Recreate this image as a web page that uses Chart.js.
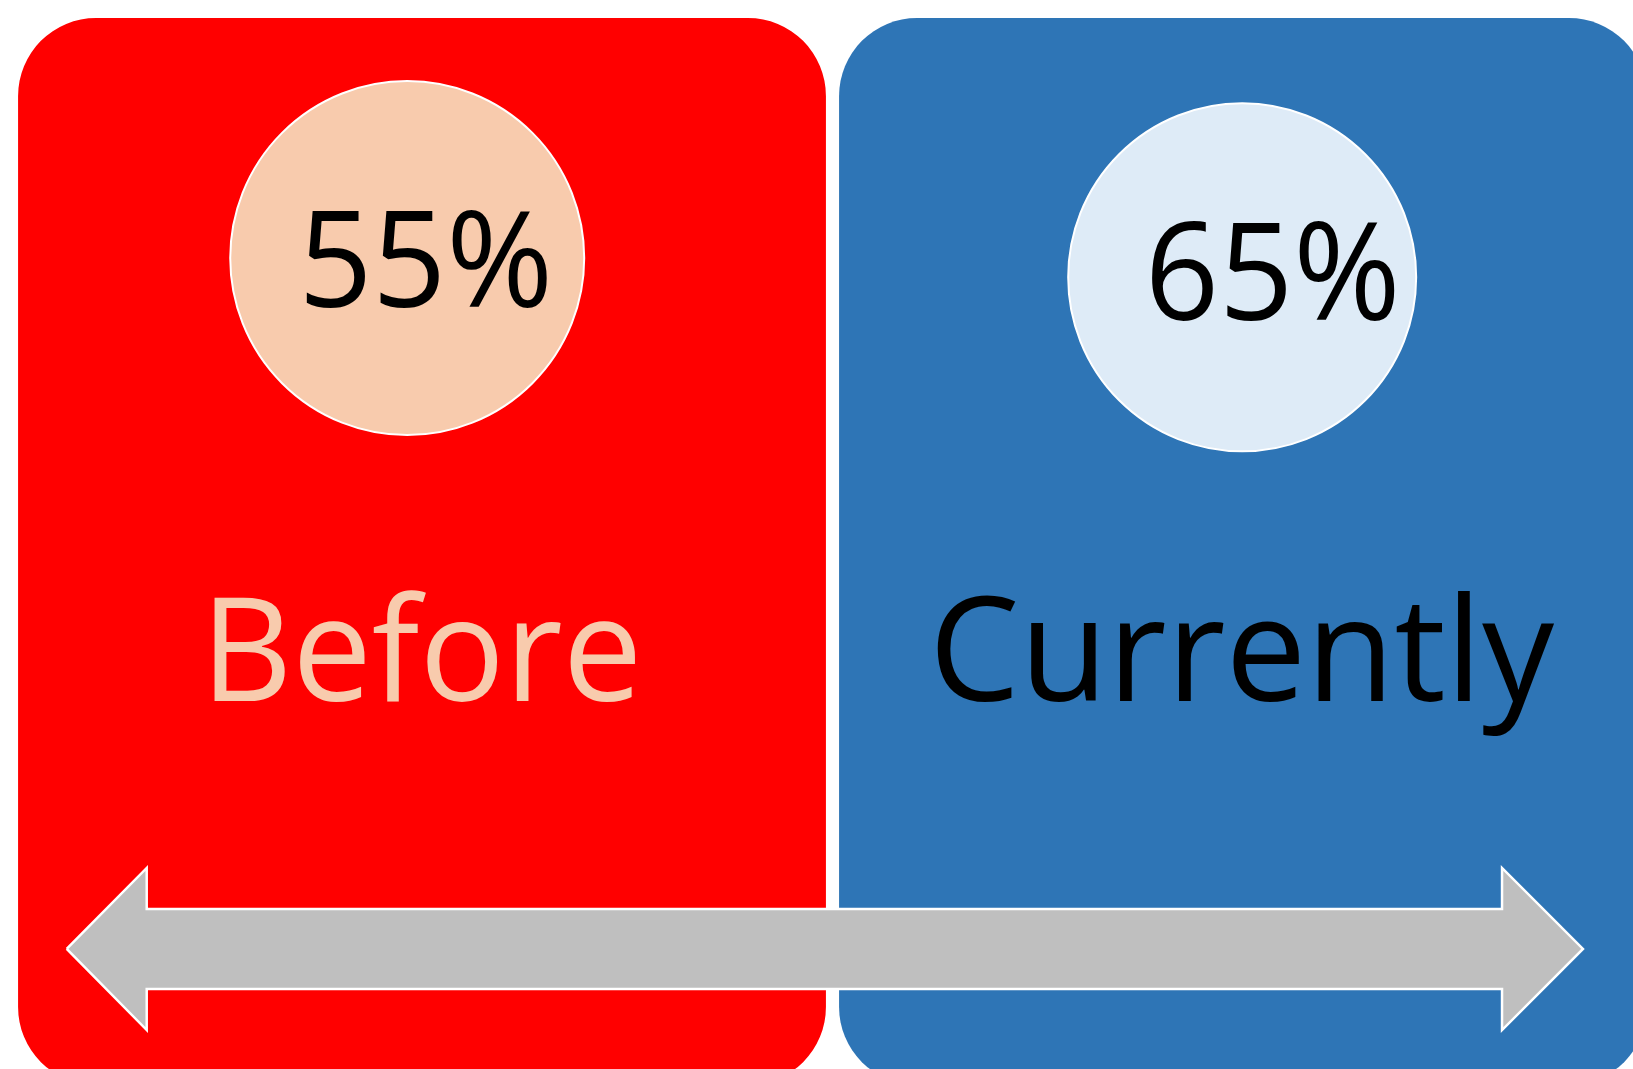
<!DOCTYPE html>
<html><head><meta charset="utf-8">
<script src="https://cdn.jsdelivr.net/npm/chart.js@4.4.1/dist/chart.umd.min.js"></script>
<style>
html,body{margin:0;padding:0;background:#fff;overflow:hidden;width:1633px;height:1069px}
canvas{position:absolute;left:0;top:0}
</style></head>
<body><canvas id="c" width="1670" height="1100"></canvas>
<script>
// ---- data ----
const categories = ['Before', 'Currently'];
const panelValues = [100, 100];
const percentLabels = ['55%', '65%'];
const circleX = [-0.018, 0.999];
const circleY = [77.5, 75.7];
const circleR = [177, 174];
const arrowX = [-0.4328, -0.3353, -0.3353, 1.3155, 1.3155, 1.4141, 1.3155, 1.3155, -0.3353, -0.3353, -0.4328];
const arrowY = [12.75, 20.34, 16.49, 16.49, 20.34, 12.75, 5.15, 9.0, 9.0, 5.15, 12.75];
const categoryLabelY = 36;

// ---- styles ----
const panelColors = ['#FF0000', '#2E75B6'];
const circleColors = ['#F8CBAD', '#DEEBF7'];
const categoryTextColors = ['#F8CBAD', '#000000'];
const FONT = '"Open Sans", "Noto Sans", sans-serif';

function drawFitted(ctx, text, cx, baseline, size, color, inkW, inkAscent) {
  ctx.save();
  ctx.font = size + 'px ' + FONT;
  ctx.textAlign = 'left';
  ctx.textBaseline = 'alphabetic';
  const m = ctx.measureText(text);
  const L = m.actualBoundingBoxLeft, R = m.actualBoundingBoxRight;
  const sx = inkW / (L + R);
  const sy = inkAscent / m.actualBoundingBoxAscent;
  ctx.translate(cx - inkW / 2 + L * sx, baseline);
  ctx.scale(sx, sy);
  ctx.fillStyle = color;
  ctx.fillText(text, 0, 0);
  ctx.restore();
}

const labelPlugin = {
  id: 'labels',
  afterDatasetsDraw(chart) {
    const ctx = chart.ctx;
    const xs = chart.scales.x, x2 = chart.scales.x2, ys = chart.scales.y;
    const catW = [421, 618], catAsc = [111.5, 111];
    categories.forEach((c, i) => {
      drawFitted(ctx, c, xs.getPixelForValue(i) + 3, ys.getPixelForValue(categoryLabelY),
        144, categoryTextColors[i], catW[i], catAsc[i]);
    });
    const pDx = [19.5, 31], pDy = [49, 43], pW = [241, 243], pAsc = [97, 98];
    percentLabels.forEach((t, i) => {
      const cx = x2.getPixelForValue(circleX[i]);
      const cy = ys.getPixelForValue(circleY[i]);
      drawFitted(ctx, t, cx + pDx[i], cy + pDy[i], 132, '#000000', pW[i], pAsc[i]);
    });
  }
};

function build() {
  new Chart(document.getElementById('c'), {
    data: {
      labels: categories,
      datasets: [
        {
          type: 'bar', data: panelValues, backgroundColor: panelColors,
          borderRadius: 78, borderSkipped: false, borderWidth: 0, grouped: false,
          barPercentage: 0.984, categoryPercentage: 1, order: 3,
          xAxisID: 'x', yAxisID: 'y'
        },
        {
          type: 'bubble',
          data: circleX.map((x, i) => ({ x: x, y: circleY[i], r: circleR[i] })),
          backgroundColor: circleColors, borderColor: '#FFFFFF', borderWidth: 2,
          xAxisID: 'x2', yAxisID: 'y', order: 2
        },
        {
          type: 'line',
          data: arrowX.map((x, i) => ({ x: x, y: arrowY[i] })),
          xAxisID: 'x2', yAxisID: 'y', fill: 'shape',
          backgroundColor: '#BFBFBF', borderColor: '#FFFFFF', borderWidth: 2.5,
          pointRadius: 0, tension: 0, borderJoinStyle: 'miter', order: 1
        }
      ]
    },
    options: {
      responsive: false, animation: false, devicePixelRatio: 1, events: [],
      layout: { autoPadding: false, padding: { left: 11.5, right: 16.5, top: 18, bottom: 15 } },
      plugins: { legend: { display: false }, tooltip: { enabled: false } },
      scales: {
        x: { type: 'category', display: false, offset: true },
        x2: { type: 'linear', display: false, min: -0.5, max: 1.5 },
        y: { type: 'linear', display: false, min: 0, max: 100 }
      }
    },
    plugins: [labelPlugin]
  });
}
if (document.fonts && document.fonts.load) {
  Promise.all([document.fonts.load('144px "Open Sans"')]).then(build, build);
} else { build(); }
</script>
</body></html>
